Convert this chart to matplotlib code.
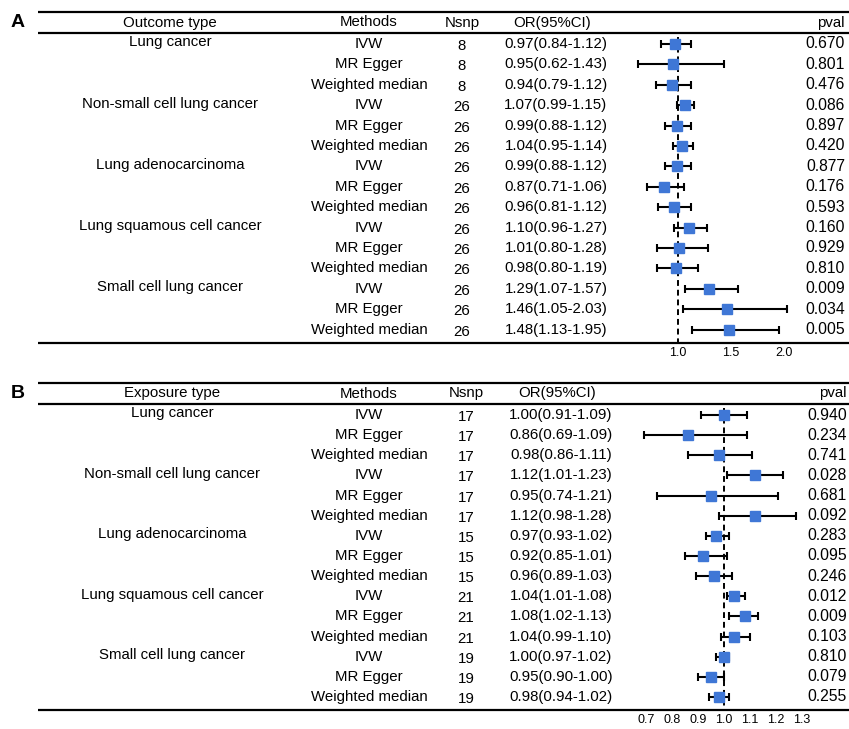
import numpy as np
import matplotlib
matplotlib.use("Agg")
import matplotlib.pyplot as plt

plt.rcParams["font.family"] = ["Liberation Sans", "DejaVu Sans"]

# Data
groups = ["Lung cancer", "Non-small cell lung cancer", "Lung adenocarcinoma",
          "Lung squamous cell cancer", "Small cell lung cancer"]
methods = ["IVW", "MR Egger", "Weighted median"]

# Panel A (outcome)
a_nsnp = [8, 8, 8, 26, 26, 26, 26, 26, 26, 26, 26, 26, 26, 26, 26]
a_or = [0.97, 0.95, 0.94, 1.07, 0.99, 1.04, 0.99, 0.87, 0.96, 1.10, 1.01, 0.98, 1.29, 1.46, 1.48]
a_lo = [0.84, 0.62, 0.79, 0.99, 0.88, 0.95, 0.88, 0.71, 0.81, 0.96, 0.80, 0.80, 1.07, 1.05, 1.13]
a_hi = [1.12, 1.43, 1.12, 1.15, 1.12, 1.14, 1.12, 1.06, 1.12, 1.27, 1.28, 1.19, 1.57, 2.03, 1.95]
a_p = [0.670, 0.801, 0.476, 0.086, 0.897, 0.420, 0.877, 0.176, 0.593, 0.160, 0.929, 0.810, 0.009, 0.034, 0.005]
a_ticks = [1.0, 1.5, 2.0]

# Panel B (exposure)
b_nsnp = [17, 17, 17, 17, 17, 17, 15, 15, 15, 21, 21, 21, 19, 19, 19]
b_or = [1.00, 0.86, 0.98, 1.12, 0.95, 1.12, 0.97, 0.92, 0.96, 1.04, 1.08, 1.04, 1.00, 0.95, 0.98]
b_lo = [0.91, 0.69, 0.86, 1.01, 0.74, 0.98, 0.93, 0.85, 0.89, 1.01, 1.02, 0.99, 0.97, 0.90, 0.94]
b_hi = [1.09, 1.09, 1.11, 1.23, 1.21, 1.28, 1.02, 1.01, 1.03, 1.08, 1.13, 1.10, 1.02, 1.00, 1.02]
b_p = [0.940, 0.234, 0.741, 0.028, 0.681, 0.092, 0.283, 0.095, 0.246, 0.012, 0.009, 0.103, 0.810, 0.079, 0.255]
b_ticks = [0.7, 0.8, 0.9, 1.0, 1.1, 1.2, 1.3]

W, H = 849, 729
fig = plt.figure(figsize=(W / 100, H / 100), dpi=100)

BLUE = "#3f77d6"
FS = 10.8
FS_P = 11.3


def panel(label, head, nsnp, ors, los, his, ps, ticks,
          top, hline, row0, step, bottom, forest_px, one_px, unit_px, cols):
    y_top = (top - row0) / step
    y_bot = (bottom - row0) / step
    y_head = (hline - row0) / step
    rect = [0, 1 - bottom / H, 1, (bottom - top) / H]
    tab = fig.add_axes(rect)
    tab.set_xlim(0, W)
    tab.set_ylim(y_bot, y_top)
    tab.axis("off")

    # rules
    for yy in (y_top, y_head, y_bot):
        tab.plot([38, W], [yy, yy], color="black", lw=1.6, solid_capstyle="butt", clip_on=False)

    c_grp, c_met, c_n, c_or, c_p = cols
    yh = (y_top + y_head) / 2
    tab.text(18, yh, label, fontsize=14, fontweight="bold", ha="center", va="center")
    tab.text(c_grp, yh, head, fontsize=FS, ha="center", va="center")
    tab.text(c_met, yh, "Methods", fontsize=FS, ha="center", va="center")
    tab.text(c_n, yh, "Nsnp", fontsize=FS, ha="center", va="center")
    tab.text(c_or - 4, yh, "OR(95%CI)", fontsize=FS, ha="center", va="center")
    tab.text(c_p, yh, "pval", fontsize=FS, ha="right", va="center")

    rows = np.arange(len(ors))
    for i in rows:
        if i % 3 == 0:
            tab.text(c_grp, i - 0.08, groups[i // 3], fontsize=FS, ha="center", va="center")
        tab.text(c_met, i, methods[i % 3], fontsize=FS, ha="center", va="center")
        tab.text(c_n, i + 0.1, str(nsnp[i]), fontsize=FS, ha="center", va="center")
        tab.text(c_or, i, f"{ors[i]:.2f}({los[i]:.2f}-{his[i]:.2f})", fontsize=FS,
                 ha="center", va="center")
        tab.text(c_p, i, f"{ps[i]:.3f}", fontsize=FS_P, ha="right", va="center")

    # forest
    x0, x1 = forest_px
    fx = fig.add_axes([x0 / W, rect[1], (x1 - x0) / W, rect[3]])
    fx.set_xlim(1 - (one_px - x0) / unit_px, 1 + (x1 - one_px) / unit_px)
    fx.set_ylim(y_bot, y_top)
    fx.patch.set_alpha(0)
    for s in fx.spines.values():
        s.set_visible(False)
    fx.set_yticks([])
    fx.set_xticks(ticks)
    fx.set_xticklabels([f"{t:.1f}" for t in ticks], fontsize=9)
    fx.tick_params(axis="x", length=0, pad=3)
    fx.plot([1, 1], [-0.35, y_bot], color="black", lw=1.4, ls=(0, (3, 2)))
    ors = np.array(ors)
    err = [ors - np.array(los), np.array(his) - ors]
    fx.errorbar(ors, rows, xerr=err, fmt="s", ms=6.5, mfc=BLUE, mec=BLUE,
                ecolor="black", elinewidth=1.5, capsize=3, capthick=1.5, zorder=3)


panel("A", "Outcome type", a_nsnp, a_or, a_lo, a_hi, a_p, a_ticks,
      top=12, hline=33, row0=44, step=20.4, bottom=343,
      forest_px=(600, 800), one_px=678, unit_px=106,
      cols=(170, 369, 462, 556, 845))

panel("B", "Exposure type", b_nsnp, b_or, b_lo, b_hi, b_p, b_ticks,
      top=383, hline=404, row0=415, step=20.14, bottom=710,
      forest_px=(620, 820), one_px=724, unit_px=258,
      cols=(172, 369, 466, 561, 847))

fig.savefig("out.png", dpi=100)
